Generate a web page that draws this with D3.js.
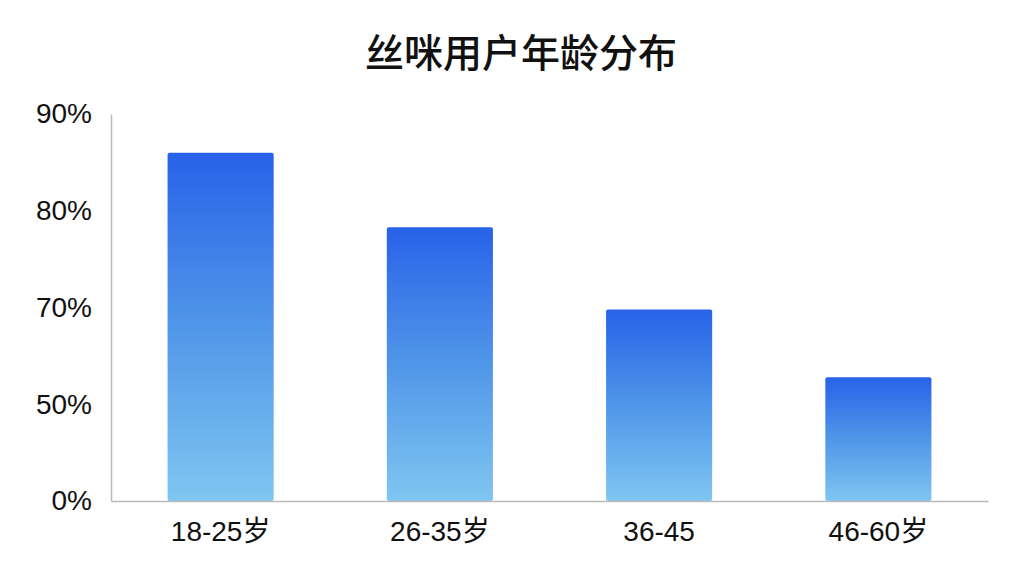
<!DOCTYPE html>
<html><head><meta charset="utf-8">
<script src="https://cdn.jsdelivr.net/npm/d3@7/dist/d3.min.js"></script>
<style>html,body{margin:0;padding:0;background:#fff;}svg{display:block;}</style>
</head><body>
<svg id="chart" width="1024" height="576"></svg>
<script>
const title = "丝咪用户年龄分布";
const categories = ["18-25岁", "26-35岁", "36-45", "46-60岁"];
const values = [86, 78.3, 69.6, 55.6];
const tickValues = [0, 50, 70, 80, 90];
const tickLabels = ["0%", "50%", "70%", "80%", "90%"];

const svg = d3.select("#chart");
const plotLeft = 111, plotRight = 988, plotBottom = 501, plotTop = 114;
const font = "'Noto Sans CJK SC','Noto Sans',sans-serif";
const numFont = "'Liberation Sans','Noto Sans CJK SC',sans-serif";

const x = d3.scaleBand().domain(categories).range([plotLeft, plotRight]).paddingInner(0.516).paddingOuter(0.258);
const yPositions = tickValues.map((d, i) => plotBottom - i * (plotBottom - plotTop) / (tickValues.length - 1));
const y = d3.scaleLinear().domain(tickValues).range(yPositions);

const defs = svg.append("defs");
const grad = defs.append("linearGradient").attr("id", "g").attr("x1", 0).attr("y1", 0).attr("x2", 0).attr("y2", 1);
grad.append("stop").attr("offset", "0%").attr("stop-color", "#2862e9");
grad.append("stop").attr("offset", "50%").attr("stop-color", "#5096e8");
grad.append("stop").attr("offset", "100%").attr("stop-color", "#80c6f1");

svg.append("text").attr("x", 521).attr("y", 67).attr("text-anchor", "middle")
  .attr("font-family", font).attr("font-size", 39).attr("font-weight", 500).attr("fill", "#111")
  .text(title);

svg.selectAll("rect.bar").data(values).join("rect").attr("class", "bar")
  .attr("x", (d, i) => x(categories[i]))
  .attr("width", x.bandwidth())
  .attr("y", d => y(d))
  .attr("height", d => plotBottom - y(d))
  .attr("rx", 2)
  .attr("fill", "url(#g)");

const yAxis = svg.append("g").attr("transform", `translate(${plotLeft},0)`)
  .call(d3.axisLeft(y).tickValues(tickValues).tickFormat((d, i) => tickLabels[i]).tickSize(0).tickPadding(19));
yAxis.select(".domain").attr("stroke", "#bbbbbb").attr("stroke-width", 1.5);
yAxis.selectAll("text").attr("font-family", numFont).attr("font-size", 28).attr("fill", "#111");

const xAxis = svg.append("g").attr("transform", `translate(0,${plotBottom})`)
  .call(d3.axisBottom(x).tickSize(0).tickPadding(20));
xAxis.select(".domain").attr("stroke", "#bbbbbb").attr("stroke-width", 1.5);
xAxis.selectAll("text").attr("font-family", numFont).attr("font-size", 28).attr("fill", "#111");
</script>
</body></html>
